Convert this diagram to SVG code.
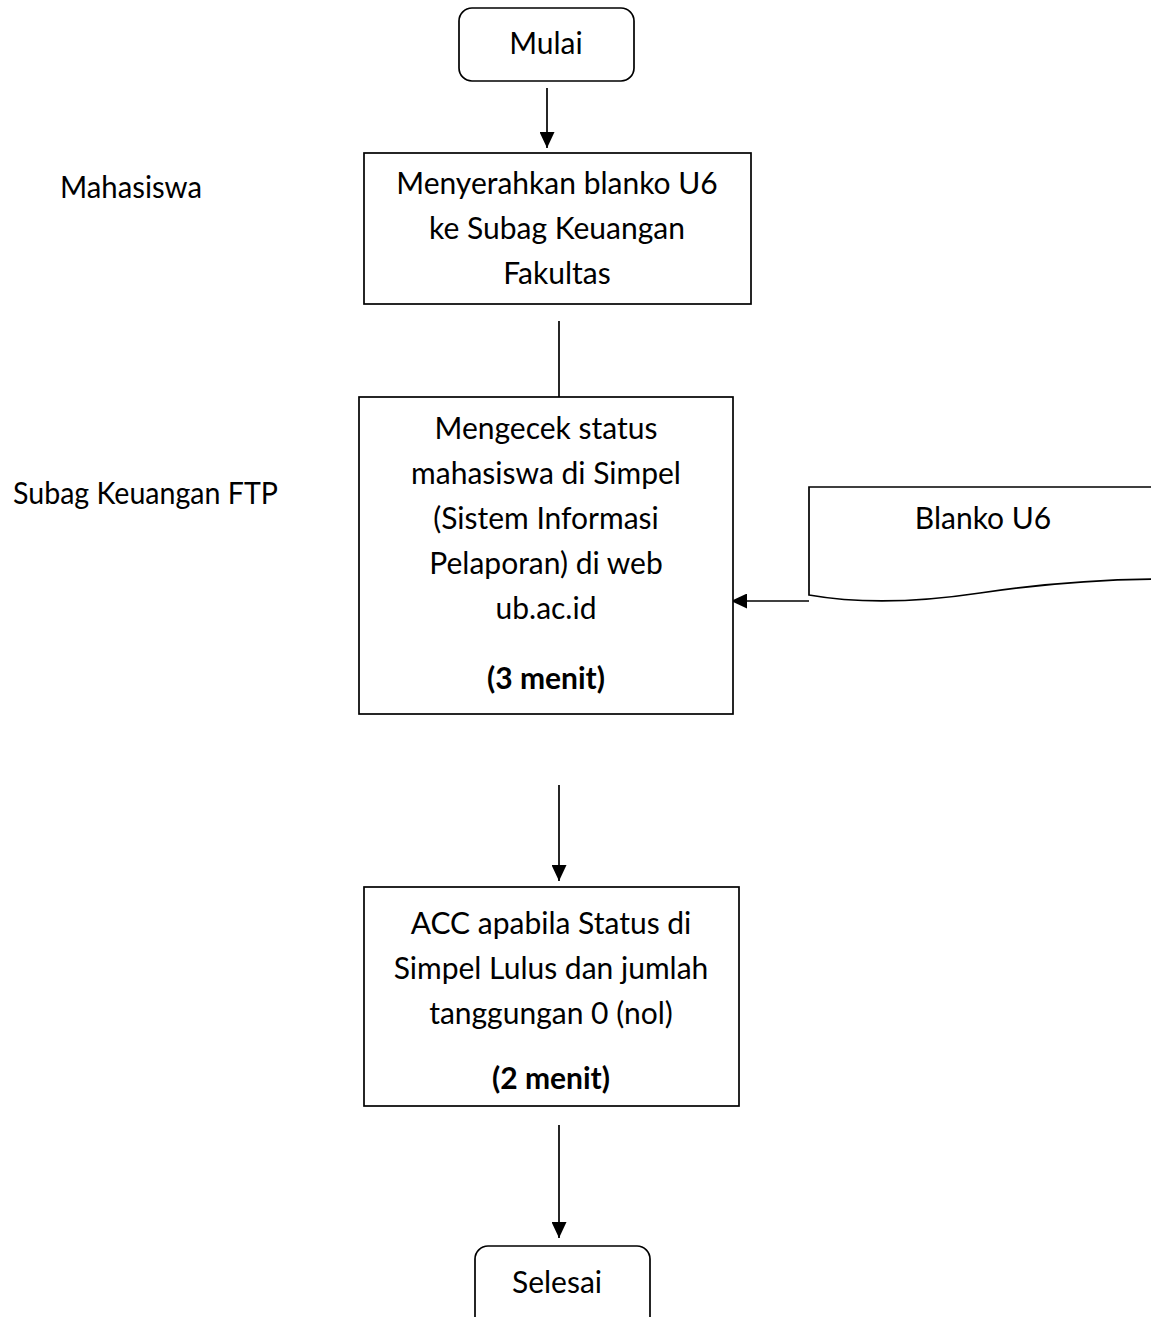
<svg xmlns="http://www.w3.org/2000/svg" width="1151" height="1317" viewBox="0 0 1151 1317">
  <style>
    .shape { fill: #ffffff; stroke: #000000; stroke-width: 1.7; }
    .wire { fill: none; stroke: #000000; stroke-width: 1.7; }
    .t { font-family: Lato, "Open Sans", "Liberation Sans", sans-serif; font-size: 30px; fill: #000000; }
    .c { text-anchor: middle; }
    .b { font-weight: bold; }
  </style>
  <defs>
    <marker id="arrow" markerUnits="userSpaceOnUse" markerWidth="16" markerHeight="15" refX="16" refY="7.5" orient="auto">
      <path d="M0,0 L16,7.5 L0,15 Z" fill="#000000"/>
    </marker>
  </defs>

  <rect width="1151" height="1317" fill="#ffffff"/>

  <!-- lane labels -->
  <g id="lane-mahasiswa">
    <text class="t" x="60" y="198" textLength="142" lengthAdjust="spacingAndGlyphs">Mahasiswa</text>
  </g>
  <g id="lane-keuangan">
    <text class="t" x="13" y="504" textLength="265" lengthAdjust="spacingAndGlyphs">Subag Keuangan FTP</text>
  </g>

  <!-- connectors -->
  <g id="connectors">
    <line class="wire" x1="547" y1="88" x2="547" y2="148" marker-end="url(#arrow)"/>
    <line class="wire" x1="559" y1="321" x2="559" y2="397"/>
    <line class="wire" x1="809" y1="601" x2="731" y2="601" marker-end="url(#arrow)"/>
    <line class="wire" x1="559" y1="785" x2="559" y2="881" marker-end="url(#arrow)"/>
    <line class="wire" x1="559" y1="1125" x2="559" y2="1238" marker-end="url(#arrow)"/>
  </g>

  <!-- start terminator -->
  <g id="mulai">
    <rect class="shape" x="459" y="8" width="175" height="73" rx="13" ry="13"/>
    <text class="t c" x="546" y="54">Mulai</text>
  </g>

  <!-- step 1 -->
  <g id="serahkan">
    <rect class="shape" x="364" y="153" width="387" height="151"/>
    <text class="t c" x="557" y="194">Menyerahkan blanko U6</text>
    <text class="t c" x="557" y="239">ke Subag Keuangan</text>
    <text class="t c" x="557" y="284">Fakultas</text>
  </g>

  <!-- step 2 -->
  <g id="cek-status">
    <rect class="shape" x="359" y="397" width="374" height="317"/>
    <text class="t c" x="546" y="439">Mengecek status</text>
    <text class="t c" x="546" y="484">mahasiswa di Simpel</text>
    <text class="t c" x="546" y="529">(Sistem Informasi</text>
    <text class="t c" x="546" y="574">Pelaporan) di web</text>
    <text class="t c" x="546" y="619">ub.ac.id</text>
    <text class="t c b" x="546" y="689">(3 menit)</text>
  </g>

  <!-- document input -->
  <g id="blanko-u6">
    <path class="shape" d="M809,487 H1165 V579 C1100,579 1040,584 980,593 C920,602 860,604 809,595 Z"/>
    <text class="t c" x="983" y="529">Blanko U6</text>
  </g>

  <!-- step 3 -->
  <g id="acc">
    <rect class="shape" x="364" y="887" width="375" height="219"/>
    <text class="t c" x="551" y="934">ACC apabila Status di</text>
    <text class="t c" x="551" y="979">Simpel Lulus dan jumlah</text>
    <text class="t c" x="551" y="1024">tanggungan 0 (nol)</text>
    <text class="t c b" x="551" y="1089">(2 menit)</text>
  </g>

  <!-- end terminator -->
  <g id="selesai">
    <rect class="shape" x="475" y="1246" width="175" height="85" rx="13" ry="13"/>
    <text class="t c" x="557" y="1293">Selesai</text>
  </g>
</svg>
